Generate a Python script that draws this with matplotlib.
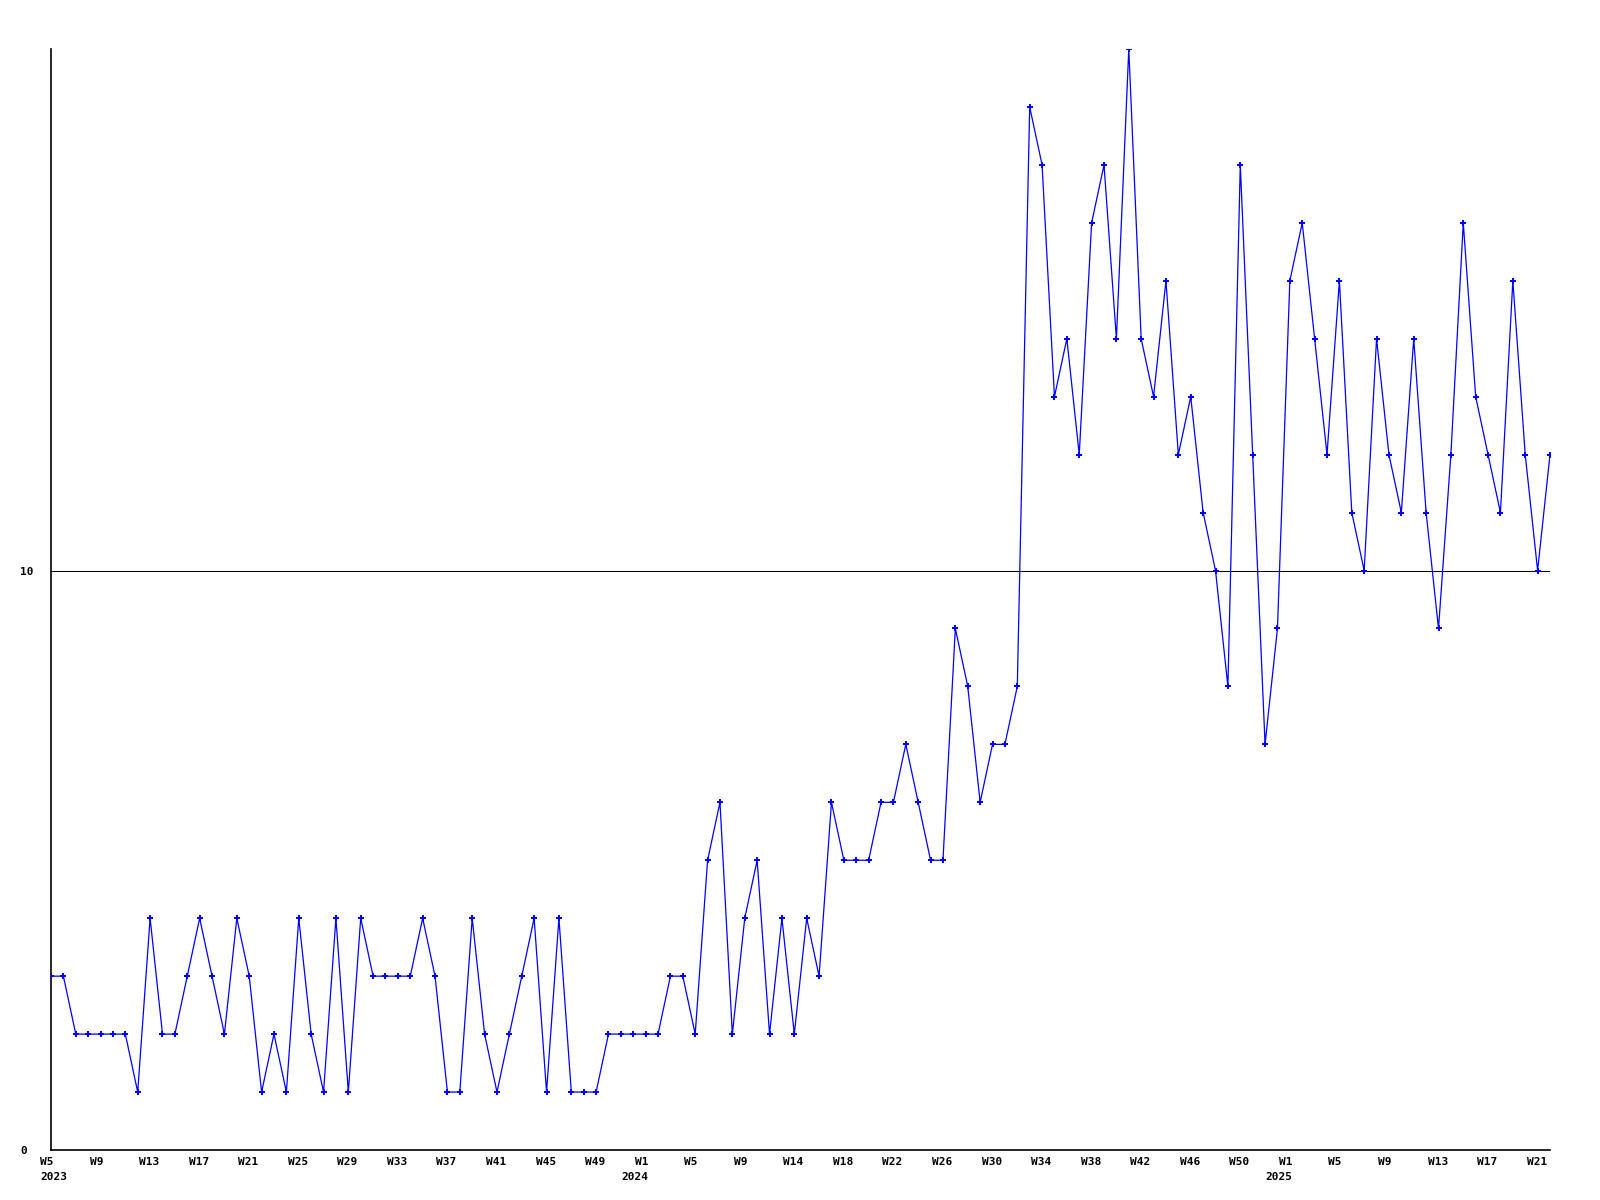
import matplotlib
matplotlib.use("Agg")
import matplotlib.pyplot as plt
import matplotlib.transforms as mtransforms

# ---- data ----
weeks_2023 = [f"2023-W{w}" for w in range(5, 53)]
weeks_2024 = [f"2024-W{w}" for w in range(1, 53)]
weeks_2025 = [f"2025-W{w}" for w in range(1, 23)]

values_2023 = [3, 3, 2, 2, 2, 2, 2, 1, 4, 2, 2, 3, 4, 3, 2, 4, 3, 1, 2, 1,
               4, 2, 1, 4, 1, 4, 3, 3, 3, 3, 4, 3, 1, 1, 4, 2, 1, 2, 3, 4,
               1, 4, 1, 1, 1, 2, 2, 2]
values_2024 = [2, 2, 3, 3, 2, 5, 6, 2, 4, 5, 2, 4, 2, 4, 3, 6, 5, 5, 5, 6,
               6, 7, 6, 5, 5, 9, 8, 6, 7, 7, 8, 18, 17, 13, 14, 12, 16, 17, 14, 19,
               14, 13, 15, 12, 13, 11, 10, 8, 17, 12, 7, 9]
values_2025 = [15, 16, 14, 12, 15, 11, 10, 14, 12, 11, 14, 11, 9, 12, 16, 13, 12, 11, 15, 12,
               10, 12]

tick_labels = ["W5", "W9", "W13", "W17", "W21", "W25", "W29", "W33", "W37", "W41", "W45", "W49",
               "W1", "W5", "W9", "W14", "W18", "W22", "W26", "W30", "W34", "W38", "W42", "W46", "W50",
               "W1", "W5", "W9", "W13", "W17", "W21"]
year_labels = ["2023", "2024", "2025"]
year_first_week = ["2023-W5", "2024-W1", "2025-W1"]
y_ticks = [0, 10]

weeks = weeks_2023 + weeks_2024 + weeks_2025
values = values_2023 + values_2024 + values_2025
x = list(range(len(weeks)))

# ---- figure ----
DPI = 100
fig = plt.figure(figsize=(16, 12), dpi=DPI, facecolor="white")
ax = fig.add_axes([51 / 1600, 1 - 1150 / 1200, (1550 - 51) / 1600, (1150 - 49) / 1200])
ax.set_facecolor("white")

ax.set_xlim(0, len(weeks) - 1)
ax.set_ylim(0, 19)

ax.axhline(10, color="black", lw=0.75, zorder=1)
ax.plot(x, values, color="#0000ff", lw=0.9, marker="P", markersize=3.8,
        markeredgewidth=0, zorder=3)

for s in ["top", "right"]:
    ax.spines[s].set_visible(False)
for s in ["left", "bottom"]:
    ax.spines[s].set_color("black")
    ax.spines[s].set_linewidth(1.2)

font = dict(family="DejaVu Sans Mono", weight="bold", size=8)

# y tick labels, left aligned at x=20px
ax.set_yticks(y_ticks)
ax.set_yticklabels([str(v) for v in y_ticks], **font)
ax.tick_params(axis="y", length=0, pad=(51 - 20) * 72 / DPI)
for lab in ax.get_yticklabels():
    lab.set_horizontalalignment("left")

# x labels
ax.set_xticks([])
tick_pos = [4 * i for i in range(len(tick_labels))]
wk_tr = mtransforms.offset_copy(ax.get_xaxis_transform(), fig=fig, x=-11, y=-12, units="dots")
for p, lab in zip(tick_pos, tick_labels):
    ax.text(p, 0, lab, transform=wk_tr, ha="left", va="center", clip_on=False, **font)

for i, (yl, wk) in enumerate(zip(year_labels, year_first_week)):
    p = weeks.index(wk)
    if i == 0:
        tr = mtransforms.offset_copy(ax.get_xaxis_transform(), fig=fig, x=-11, y=-27.5, units="dots")
        ha = "left"
    else:
        tr = mtransforms.offset_copy(ax.get_xaxis_transform(), fig=fig, x=-10.5, y=-27.5, units="dots")
        ha = "center"
    ax.text(p, 0, yl, transform=tr, ha=ha, va="center", clip_on=False, **font)

fig.savefig("out.png", dpi=DPI, facecolor="white")
